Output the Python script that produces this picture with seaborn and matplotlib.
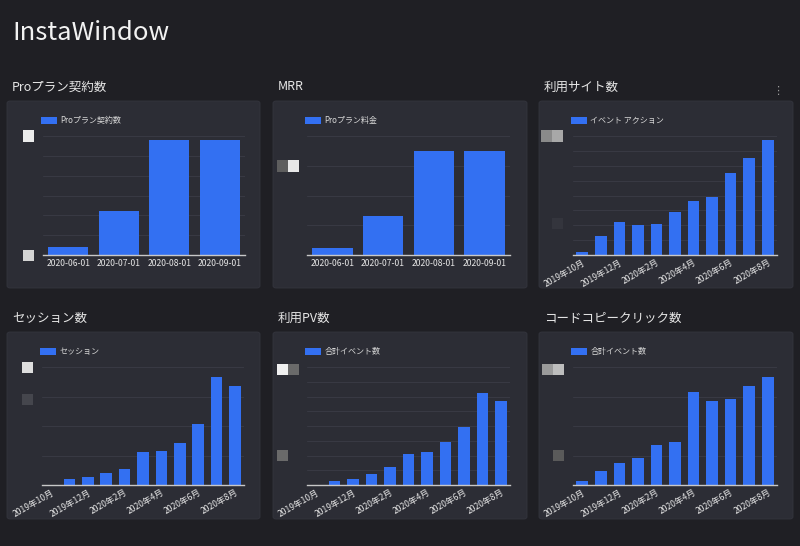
import matplotlib
matplotlib.use("Agg")
import matplotlib.pyplot as plt
from matplotlib.patches import FancyBboxPatch, Rectangle
import seaborn as sns

# data
day_labels = ["2020-06-01", "2020-07-01", "2020-08-01", "2020-09-01"]
month_labels = ["2019年10月", "2019年11月", "2019年12月", "2020年1月", "2020年2月", "2020年3月",
                "2020年4月", "2020年5月", "2020年6月", "2020年7月", "2020年8月"]
month_ticks = ["2019年10月", "2019年12月", "2020年2月", "2020年4月", "2020年6月", "2020年8月"]

pro_contracts = [2, 11, 29, 29]
mrr = [2200, 13100, 34800, 34800]
site_events = [2, 13, 22, 20, 21, 29, 36, 39, 55, 65, 77]
sessions = [0, 107, 129, 208, 275, 556, 573, 713, 1028, 1837, 1685]
page_views = [0, 290, 430, 760, 1210, 2130, 2220, 2900, 3930, 6270, 5710]
code_copies = [12, 48, 75, 93, 134, 145, 315, 285, 293, 334, 366]

titles = ["Proプラン契約数", "MRR", "利用サイト数", "セッション数", "利用PV数", "コードコピークリック数"]
legends = ["Proプラン契約数", "Proプラン料金", "イベント アクション", "セッション", "合計イベント数", "合計イベント数"]

BG = "#1f1f24"
CARD = "#2c2d35"
GRID = "#383943"
BAR = "#3370f2"
TXT = "#e6e6e6"

sns.set_theme(style="dark")
plt.rcParams["font.family"] = ["Noto Sans CJK JP", "DejaVu Sans"]

W, H = 800, 546
fig = plt.figure(figsize=(8, 5.46), dpi=100, facecolor=BG)


def fx(x):
    return x / W


def fy(y):
    return 1 - y / H


fig.text(fx(12), fy(33), "InstaWindow", color="#f2f2f2", fontsize=18.5, va="center", ha="left")
fig.text(fx(778), fy(91), "⋮", color="#9a9a9a", fontsize=8, va="center", ha="center",
         family=["DejaVu Sans"])

# panels: (card left, card top, card right, card bottom), (axes left, top, right, bottom)
cards = [(7, 101, 260, 288), (273, 101, 527, 288), (539, 101, 793, 288),
         (7, 332, 260, 519), (273, 332, 527, 519), (539, 332, 793, 519)]
boxes = [(43, 136, 245, 255), (307, 136, 510, 255), (573, 136, 777, 255),
         (42, 367, 244, 485), (307, 367, 510, 485), (573, 367, 777, 485)]
series = [pro_contracts, mrr, site_events, sessions, page_views, code_copies]
limits = [(30, 5), (40000, 10000), (80, 10), (2000, 500), (8000, 1000), (400, 100)]

# blurred-out y labels from the screenshot
blurs = [(23, 136, "#ececec"), (23, 255, "#d4d4d4"),
         (277, 166, "#5e5e5e"), (288, 166, "#e8e8e8"),
         (541, 136, "#8a8a8a"), (552, 136, "#a8a8a8"), (552, 223, "#34353d"),
         (22, 367, "#dedede"), (22, 399, "#45464d"),
         (277, 369, "#f0f0f0"), (288, 369, "#6a6a6a"), (277, 455, "#6a6a6a"),
         (542, 369, "#9a9a9a"), (553, 369, "#bdbdbd"), (553, 455, "#5a5a5a")]

for i in range(6):
    l, t, r, b = cards[i]
    fig.patches.append(FancyBboxPatch((fx(l), fy(b)), fx(r - l), (b - t) / H,
                                      boxstyle="round,pad=0,rounding_size=0.004",
                                      transform=fig.transFigure, facecolor=CARD,
                                      edgecolor="#34353e", linewidth=0.6, zorder=-5))
    fig.text(fx(l + 5), fy(t - 14), titles[i], color=TXT, fontsize=9, va="center", ha="left")

    al, at, ar, ab = boxes[i]
    ax = fig.add_axes([fx(al), fy(ab), fx(ar - al), (ab - at) / H])
    ax.set_facecolor("none")
    if i < 2:
        sns.barplot(x=day_labels, y=series[i], ax=ax, color=BAR, saturation=1,
                    width=0.8, linewidth=0, label=legends[i])
    else:
        sns.barplot(x=month_labels, y=series[i], ax=ax, color=BAR, saturation=1,
                    width=0.63, linewidth=0, label=legends[i])
    top, step = limits[i]
    ax.set_ylim(0, top)
    ax.set_yticks(range(0, top + 1, step))
    ax.set_yticklabels([])
    ax.grid(axis="y", color=GRID, linewidth=0.8)
    ax.set_axisbelow(True)
    for s in ["top", "right", "left"]:
        ax.spines[s].set_visible(False)
    ax.spines["bottom"].set_color("#c8c8c8")
    ax.spines["bottom"].set_linewidth(1)
    ax.tick_params(length=0, colors=TXT, labelsize=6.2, pad=3)
    ax.set_xlabel("")
    ax.set_ylabel("")
    if i >= 2:
        ax.set_xticks([0, 2, 4, 6, 8, 10])
        ax.set_xticklabels(month_ticks, rotation=30, ha="right", rotation_mode="anchor")
        ax.tick_params(axis="x", pad=2)
    leg = ax.legend(loc="lower left", bbox_to_anchor=(-0.01, 1.09), frameon=False,
                    fontsize=5.8, handlelength=2.0, handleheight=0.9, borderpad=0,
                    borderaxespad=0, handletextpad=0.4)
    for tx in leg.get_texts():
        tx.set_color("#d8d8d8")

for x, y, c in blurs:
    fig.patches.append(Rectangle((fx(x), fy(y + 5.5)), fx(11), 11 / H,
                                 transform=fig.transFigure, facecolor=c,
                                 edgecolor="none", zorder=1))

fig.savefig("out.png", dpi=100, facecolor=BG)
